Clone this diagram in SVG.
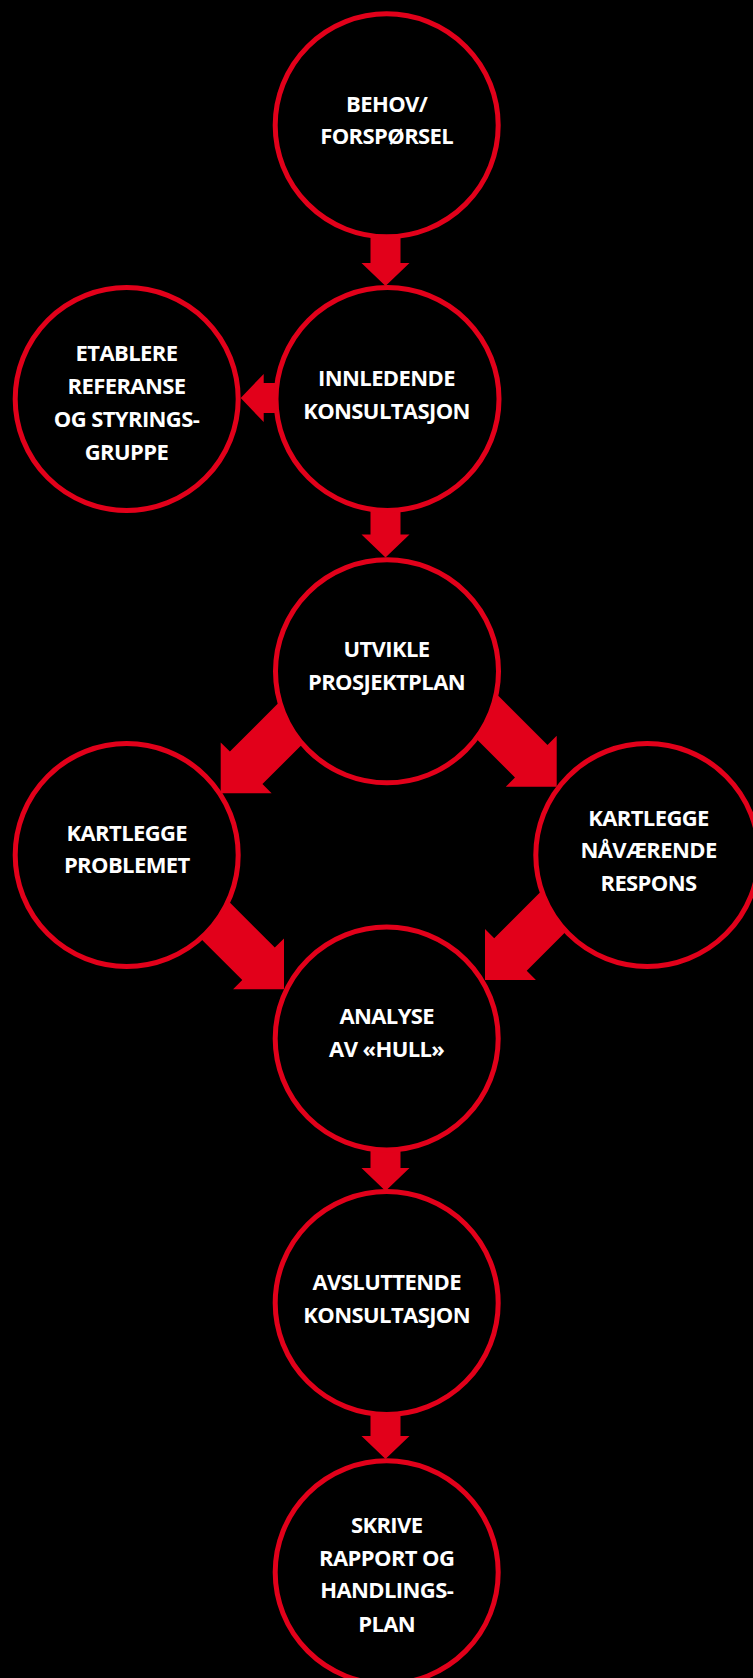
<svg xmlns="http://www.w3.org/2000/svg" xmlns:xlink="http://www.w3.org/1999/xlink" width="753" height="1678" viewBox="0 0 753 1678">
<style>
.node circle{fill:#000;stroke:#e2001a;stroke-width:5}
.node text{font-family:"Open Sans","Noto Sans","Liberation Sans",sans-serif;font-weight:700;font-size:22px;letter-spacing:-0.6px;fill:#fff;text-anchor:middle}
.arrow{fill:#e2001a}
</style>
<defs>
<polygon id="arrS" points="0,0 -23,-24 -23,-15 -110,-15 -110,15 -23,15 -23,24"/>
<polygon id="arrD" points="0,0 -36,-36 -36,-23 -130,-23 -130,23 -36,23 -36,36"/>
</defs>
<rect x="0" y="0" width="753" height="1678" fill="#000"/>
<g id="connectors" class="arrow">
<use xlink:href="#arrS" href="#arrS" transform="translate(385.5,286) rotate(90)"/>
<use xlink:href="#arrS" href="#arrS" transform="translate(240.7,398) rotate(180)"/>
<use xlink:href="#arrS" href="#arrS" transform="translate(385.5,557.5) rotate(90)"/>
<use xlink:href="#arrD" href="#arrD" transform="translate(220.7,793.3) rotate(135)"/>
<use xlink:href="#arrD" href="#arrD" transform="translate(556.7,786.7) rotate(45)"/>
<use xlink:href="#arrD" href="#arrD" transform="translate(284,989.3) rotate(45)"/>
<use xlink:href="#arrD" href="#arrD" transform="translate(485,980) rotate(135)"/>
<use xlink:href="#arrS" href="#arrS" transform="translate(385.5,1191) rotate(90)"/>
<use xlink:href="#arrS" href="#arrS" transform="translate(385.5,1459) rotate(90)"/>
</g>
<g id="n1" class="node">
<circle cx="386.7" cy="125.3" r="111.5"/>
<text x="386.7" y="111.7">BEHOV/</text>
<text x="386.7" y="144">FORSPØRSEL</text>
</g>
<g id="n2" class="node">
<circle cx="387.5" cy="399" r="111.5"/>
<text x="386.5" y="386">INNLEDENDE</text>
<text x="386.5" y="419">KONSULTASJON</text>
</g>
<g id="n3" class="node">
<circle cx="126.7" cy="399" r="111.5"/>
<text x="126.5" y="360.7">ETABLERE</text>
<text x="126.5" y="394">REFERANSE</text>
<text x="126.5" y="426.7">OG STYRINGS-</text>
<text x="126.5" y="460">GRUPPE</text>
</g>
<g id="n4" class="node">
<circle cx="387" cy="671.3" r="111.5"/>
<text x="386.5" y="657.3">UTVIKLE</text>
<text x="386.5" y="690">PROSJEKTPLAN</text>
</g>
<g id="n5" class="node">
<circle cx="126.7" cy="855" r="111.5"/>
<text x="126.8" y="840.7">KARTLEGGE</text>
<text x="126.8" y="873.3">PROBLEMET</text>
</g>
<g id="n6" class="node">
<circle cx="647.3" cy="855" r="111.5"/>
<text x="648.5" y="825.7">KARTLEGGE</text>
<text x="648.5" y="858.3">NÅVÆRENDE</text>
<text x="648.5" y="891">RESPONS</text>
</g>
<g id="n7" class="node">
<circle cx="386.7" cy="1038.5" r="111.5"/>
<text x="386.7" y="1024.3">ANALYSE</text>
<text x="386.7" y="1057.3">AV «HULL»</text>
</g>
<g id="n8" class="node">
<circle cx="386.7" cy="1303" r="111.5"/>
<text x="386.7" y="1290">AVSLUTTENDE</text>
<text x="386.7" y="1323.3">KONSULTASJON</text>
</g>
<g id="n9" class="node">
<circle cx="386.7" cy="1572.3" r="111.5"/>
<text x="386.7" y="1532.7">SKRIVE</text>
<text x="386.7" y="1565.7">RAPPORT OG</text>
<text x="386.7" y="1598.3">HANDLINGS-</text>
<text x="386.7" y="1631.7">PLAN</text>
</g>
</svg>
